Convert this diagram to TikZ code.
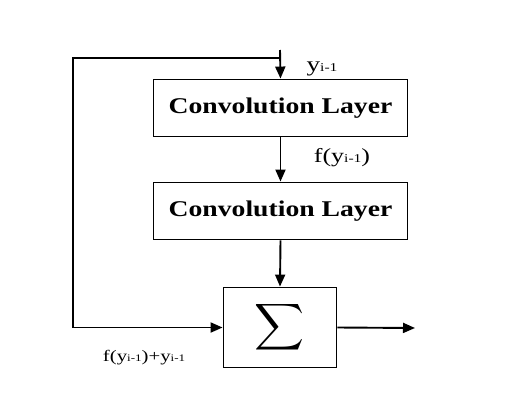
\documentclass[tikz,border=0pt]{standalone}
\usepackage{fontspec}
\setmainfont{Liberation Serif}
\usetikzlibrary{arrows.meta}
\tikzset{
  line/.style={line width=1.9pt, draw=black},
  arr/.style={line, -{Triangle[length=12pt,width=10pt]}},
  layerbox/.style={line, rectangle, minimum width=254pt, minimum height=57pt, inner sep=0pt,
    font=\fontsize{22.5}{26}\selectfont\bfseries},
  sumbox/.style={line, rectangle, minimum width=113pt, minimum height=80pt, inner sep=0pt},
  lbl/.style={inner sep=0pt, xscale=1.3}
}
\begin{document}
\begin{tikzpicture}[x=1pt,y=-1pt]
\useasboundingbox (0,0) rectangle (506,405);
\node[layerbox] (b1) at (280.5,108) {\scalebox{1.23}[1]{Convolution Layer}};
\node[layerbox] (b2) at (280.5,211) {\scalebox{1.23}[1]{Convolution Layer}};
\node[sumbox] (sig) at (280,327.5) {\resizebox*{50pt}{52pt}{$\displaystyle\sum$}};
\coordinate (in) at (280,50);
\coordinate (split) at (280,58);
\coordinate (tl) at (73,58);
\coordinate (out) at (415,328);
\draw[arr] (in) -- (b1.north);
\draw[arr] (b1.south) -- (b2.north);
\draw[arr] (b2.south) -- (sig.north);
\draw[arr] (split) -- (tl) |- (sig.west);
\draw[arr] (sig.east) -- (out);
\node[lbl] (l1) at (322,69) {\fontsize{21}{24}\selectfont y{\fontsize{12}{14}\selectfont i-1}};
\node[lbl] (l2) at (342,158) {\fontsize{20}{24}\selectfont f(y{\fontsize{12}{14}\selectfont i-1})};
\node[lbl] (l3) at (144,358) {\fontsize{16}{20}\selectfont f(y{\fontsize{10}{12}\selectfont i-1})+y{\fontsize{10}{12}\selectfont i-1}};
\end{tikzpicture}
\end{document}
